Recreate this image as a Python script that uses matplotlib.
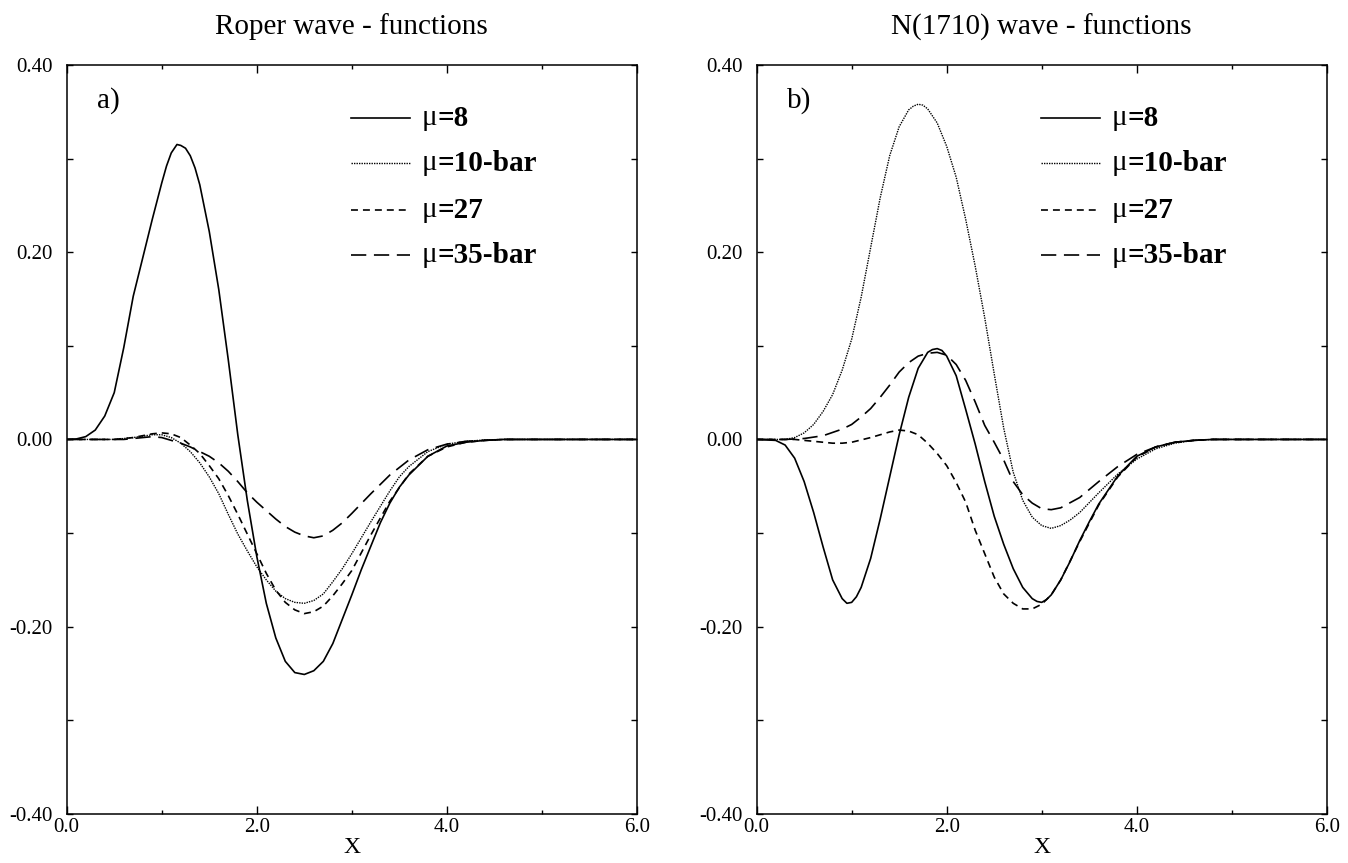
import numpy as np
import matplotlib
matplotlib.use("Agg")
import matplotlib.pyplot as plt
from matplotlib.ticker import MultipleLocator, FormatStrFormatter

plt.rcParams['font.family'] = ['Liberation Serif', 'DejaVu Serif']
plt.rcParams['lines.scale_dashes'] = False

# ---- panel a) Roper wave ----
xa_8 = [0.0, 0.1, 0.2, 0.3, 0.4, 0.5, 0.6, 0.7, 0.8, 0.9, 1.0, 1.05, 1.1, 1.16, 1.2, 1.25, 1.3,
        1.35, 1.4, 1.5, 1.6, 1.7, 1.8, 1.9, 2.0, 2.1, 2.2, 2.3, 2.4, 2.5, 2.6, 2.7, 2.8, 2.9,
        3.0, 3.1, 3.2, 3.3, 3.4, 3.5, 3.6, 3.8, 4.0, 4.2, 4.4, 4.6, 6.0]
ya_8 = [0.0, 0.0005, 0.003, 0.010, 0.025, 0.050, 0.098, 0.153, 0.194, 0.235, 0.274, 0.292, 0.306,
        0.315, 0.314, 0.311, 0.303, 0.290, 0.272, 0.222, 0.160, 0.085, 0.005, -0.065, -0.125,
        -0.175, -0.212, -0.237, -0.249, -0.251, -0.247, -0.237, -0.218, -0.192, -0.166, -0.139,
        -0.114, -0.089, -0.068, -0.051, -0.038, -0.018, -0.007, -0.003, -0.001, 0.0, 0.0]

xa_10 = [0.0, 0.5, 0.7, 0.9, 1.0, 1.1, 1.2, 1.3, 1.4, 1.5, 1.6, 1.7, 1.8, 1.9, 2.0, 2.1, 2.2, 2.3,
         2.4, 2.5, 2.6, 2.7, 2.8, 2.9, 3.0, 3.2, 3.4, 3.5, 3.6, 3.8, 4.0, 4.2, 4.4, 4.6, 6.0]
ya_10 = [0.0, 0.0, 0.002, 0.005, 0.005, 0.002, -0.004, -0.013, -0.025, -0.040, -0.058, -0.080,
         -0.101, -0.119, -0.136, -0.150, -0.162, -0.170, -0.174, -0.175, -0.172, -0.165, -0.152,
         -0.138, -0.122, -0.088, -0.055, -0.040, -0.029, -0.013, -0.005, -0.002, -0.0005, 0.0, 0.0]

xa_27 = [0.0, 0.5, 0.7, 0.9, 1.0, 1.1, 1.2, 1.3, 1.4, 1.5, 1.6, 1.7, 1.8, 1.9, 2.0, 2.1, 2.2, 2.3,
         2.4, 2.5, 2.6, 2.7, 2.8, 2.9, 3.0, 3.2, 3.4, 3.6, 3.8, 4.0, 4.2, 4.4, 4.6, 6.0]
ya_27 = [0.0, 0.0, 0.002, 0.006, 0.007, 0.006, 0.002, -0.006, -0.015, -0.028, -0.042, -0.060,
         -0.080, -0.101, -0.122, -0.143, -0.161, -0.174, -0.182, -0.186, -0.184, -0.178, -0.167,
         -0.154, -0.140, -0.102, -0.066, -0.037, -0.018, -0.008, -0.003, -0.001, 0.0, 0.0]

xa_35 = [0.0, 0.6, 0.8, 0.9, 1.0, 1.1, 1.2, 1.3, 1.4, 1.5, 1.6, 1.7, 1.8, 1.9, 2.0, 2.1, 2.2, 2.3,
         2.4, 2.5, 2.6, 2.7, 2.8, 2.9, 3.0, 3.2, 3.4, 3.6, 3.8, 4.0, 4.2, 4.4, 4.6, 6.0]
ya_35 = [0.0, 0.0, 0.002, 0.003, 0.002, -0.001, -0.004, -0.008, -0.013, -0.018, -0.025, -0.034,
         -0.045, -0.057, -0.067, -0.076, -0.085, -0.093, -0.099, -0.103, -0.105, -0.103, -0.097,
         -0.089, -0.079, -0.058, -0.038, -0.022, -0.011, -0.005, -0.002, -0.001, 0.0, 0.0]

# ---- panel b) N(1710) wave ----
xb_8 = [0.0, 0.2, 0.3, 0.4, 0.5, 0.6, 0.7, 0.8, 0.9, 0.95, 1.0, 1.05, 1.1, 1.2, 1.3, 1.4, 1.5,
        1.6, 1.7, 1.8, 1.85, 1.9, 1.95, 2.0, 2.1, 2.2, 2.3, 2.4, 2.5, 2.6, 2.7, 2.8, 2.9, 2.95,
        3.0, 3.05, 3.1, 3.2, 3.3, 3.4, 3.5, 3.6, 3.8, 4.0, 4.2, 4.4, 4.6, 4.8, 6.0]
yb_8 = [0.0, -0.001, -0.006, -0.020, -0.045, -0.078, -0.115, -0.150, -0.170, -0.175, -0.174,
        -0.168, -0.158, -0.127, -0.085, -0.040, 0.005, 0.045, 0.076, 0.093, 0.096, 0.097, 0.095,
        0.089, 0.068, 0.032, -0.005, -0.045, -0.082, -0.112, -0.138, -0.158, -0.170, -0.173,
        -0.174, -0.171, -0.166, -0.150, -0.130, -0.108, -0.088, -0.069, -0.039, -0.018, -0.008,
        -0.003, -0.001, 0.0, 0.0]

xb_10 = [0.0, 0.3, 0.4, 0.5, 0.6, 0.7, 0.8, 0.9, 1.0, 1.1, 1.2, 1.3, 1.4, 1.5, 1.6, 1.65, 1.7,
         1.75, 1.8, 1.9, 2.0, 2.1, 2.2, 2.3, 2.4, 2.5, 2.6, 2.7, 2.8, 2.9, 3.0, 3.1, 3.2, 3.3,
         3.4, 3.6, 3.8, 4.0, 4.2, 4.4, 4.6, 4.8, 6.0]
yb_10 = [0.0, 0.0, 0.002, 0.007, 0.016, 0.030, 0.048, 0.074, 0.107, 0.152, 0.205, 0.258, 0.303,
         0.334, 0.352, 0.356, 0.358, 0.357, 0.353, 0.338, 0.313, 0.280, 0.235, 0.185, 0.130,
         0.070, 0.012, -0.035, -0.065, -0.083, -0.092, -0.095, -0.092, -0.086, -0.078, -0.057,
         -0.037, -0.021, -0.010, -0.004, -0.001, 0.0, 0.0]

xb_27 = [0.0, 0.4, 0.6, 0.8, 0.9, 1.0, 1.2, 1.4, 1.5, 1.6, 1.7, 1.8, 1.9, 2.0, 2.1, 2.2, 2.3, 2.4,
         2.5, 2.6, 2.7, 2.8, 2.9, 3.0, 3.1, 3.2, 3.4, 3.6, 3.8, 4.0, 4.2, 4.4, 4.6, 4.8, 6.0]
yb_27 = [0.0, 0.0, -0.002, -0.004, -0.004, -0.003, 0.002, 0.008, 0.010, 0.009, 0.005, -0.004,
         -0.015, -0.028, -0.046, -0.067, -0.097, -0.122, -0.147, -0.165, -0.175, -0.181, -0.181,
         -0.176, -0.166, -0.150, -0.109, -0.070, -0.040, -0.019, -0.008, -0.003, -0.001, 0.0, 0.0]

xb_35 = [0.0, 0.3, 0.5, 0.7, 0.9, 1.0, 1.1, 1.2, 1.3, 1.4, 1.5, 1.6, 1.7, 1.8, 1.9, 2.0, 2.1, 2.2,
         2.3, 2.4, 2.5, 2.6, 2.7, 2.8, 2.9, 3.0, 3.1, 3.2, 3.4, 3.6, 3.8, 4.0, 4.2, 4.4, 4.6, 4.8,
         6.0]
yb_35 = [0.0, 0.0, 0.001, 0.004, 0.011, 0.016, 0.024, 0.033, 0.045, 0.058, 0.072, 0.082, 0.089,
         0.092, 0.093, 0.090, 0.080, 0.063, 0.040, 0.015, -0.003, -0.022, -0.045, -0.059, -0.068,
         -0.074, -0.075, -0.073, -0.062, -0.045, -0.029, -0.016, -0.008, -0.003, -0.001, 0.0, 0.0]

titles = ["Roper wave - functions", "N(1710) wave - functions"]
panel_tags = ["a)", "b)"]
mu_labels = ["=8", "=10-bar", "=27", "=35-bar"]

styles = [dict(ls='-', lw=1.2),
          dict(ls=(0, (1.0, 0.8)), lw=1.0),
          dict(ls=(0, (5, 3.6)), lw=1.2),
          dict(ls=(0, (11, 5.5)), lw=1.2)]

fig = plt.figure(figsize=(13.48, 8.63), dpi=100)
ax_a = fig.add_axes([0.0495, 0.0568, 0.423, 0.868])
ax_b = fig.add_axes([0.5613, 0.0568, 0.423, 0.868])

panels = [(ax_a, [(xa_8, ya_8), (xa_10, ya_10), (xa_27, ya_27), (xa_35, ya_35)]),
          (ax_b, [(xb_8, yb_8), (xb_10, yb_10), (xb_27, yb_27), (xb_35, yb_35)])]

for i, (ax, curves) in enumerate(panels):
    for (xs, ys), st in zip(curves, styles):
        ax.plot(xs, ys, color='black', **st)

    ax.set_xlim(0, 6)
    ax.set_ylim(-0.4, 0.4)
    ax.xaxis.set_major_locator(MultipleLocator(2.0))
    ax.xaxis.set_minor_locator(MultipleLocator(1.0))
    ax.yaxis.set_major_locator(MultipleLocator(0.2))
    ax.yaxis.set_minor_locator(MultipleLocator(0.1))
    ax.xaxis.set_major_formatter(FormatStrFormatter('%.1f'))
    ax.yaxis.set_major_formatter(FormatStrFormatter('%.2f'))
    ax.tick_params(which='both', direction='in', top=True, right=True, width=1.0, labelsize=15)
    ax.tick_params(axis='x', which='major', length=5.5, pad=3)
    ax.tick_params(axis='x', which='minor', length=3)
    ax.tick_params(axis='y', which='both', length=4.5, pad=10)
    for sp in ax.spines.values():
        sp.set_linewidth(1.1)

    ax.set_title(titles[i], fontsize=21, pad=22)
    ax.set_xlabel('X', fontsize=17, labelpad=0)
    ax.text(0.053, 0.952, panel_tags[i], transform=ax.transAxes, fontsize=21, va='center', ha='left')

    # legend
    rows = [0.929, 0.869, 0.806, 0.746]
    for r, st, lab in zip(rows, styles, mu_labels):
        ax.plot([0.498, 0.602], [r, r], transform=ax.transAxes, color='black', **st)
        t = ax.text(0.6228, r, 'μ', transform=ax.transAxes, fontsize=21, va='center', ha='left')
        ax.annotate(lab, xy=(1.0, 0.5), xycoords=t, fontsize=21, fontweight='bold',
                    va='center', ha='left')

fig.savefig('out.png', dpi=100)
